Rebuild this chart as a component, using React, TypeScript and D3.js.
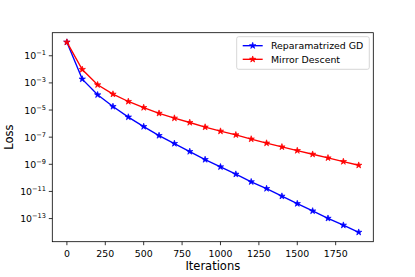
import React from "react";
import * as d3 from "d3";

const iterations = [0, 100, 200, 300, 400, 500, 600, 700, 800, 900, 1000, 1100, 1200, 1300, 1400, 1500, 1600, 1700, 1800, 1900];
const reparamLog10 = [0, -2.72, -3.88, -4.74, -5.52, -6.22, -6.88, -7.47, -8.06, -8.65, -9.19, -9.73, -10.29, -10.79, -11.35, -11.9, -12.44, -12.98, -13.49, -14.01];
const mirrorLog10 = [0, -2.01, -3.14, -3.83, -4.37, -4.82, -5.24, -5.6, -5.92, -6.26, -6.56, -6.83, -7.14, -7.44, -7.72, -7.99, -8.26, -8.53, -8.8, -9.07];
const reparamGD = reparamLog10.map((v) => Math.pow(10, v));
const mirrorDescent = mirrorLog10.map((v) => Math.pow(10, v));
const xTicks = [0, 250, 500, 750, 1000, 1250, 1500, 1750];
const yTickExponents = [-1, -3, -5, -7, -9, -11, -13];
const seriesNames = ["Reparamatrized GD", "Mirror Descent"];
const seriesColors = ["#0000ff", "#ff0000"];

const W = 415;
const H = 277;
const L = 52.3, R = 373.3, T = 32.7, B = 241.7;
const FONT = "DejaVu Sans";

export default function App() {
  const x = d3.scaleLinear().domain([-95, 1995]).range([L, R]);
  const y = d3.scaleLog().domain([Math.pow(10, -14.705), Math.pow(10, 0.7)]).range([B, T]);
  const line = d3.line<[number, number]>().x((d) => x(d[0])).y((d) => y(d[1]));
  const star = d3.symbol().type(d3.symbolStar).size(12.5)();
  const series = [reparamGD, mirrorDescent];

  return (
    <svg width={W} height={H} style={{ position: "absolute", left: 0, top: 0, background: "#fff" }} fontFamily={FONT}>
      <rect x={0} y={0} width={W} height={H} fill="#fff" />
      {series.map((vals, si) => {
        const pts = iterations.map((it, i) => [it, vals[i]] as [number, number]);
        return (
          <g key={si}>
            <path d={line(pts) || ""} fill="none" stroke={seriesColors[si]} strokeWidth={1.35} />
            {pts.map((p, i) => (
              <path key={i} d={star || ""} transform={`translate(${x(p[0])},${y(p[1])})`} fill={seriesColors[si]} stroke={seriesColors[si]} strokeWidth={0.7} />
            ))}
          </g>
        );
      })}
      {/* spines */}
      <rect x={L} y={T} width={R - L} height={B - T} fill="none" stroke="#000" strokeWidth={0.8} />
      {/* x ticks */}
      {xTicks.map((t) => (
        <g key={t}>
          <line x1={x(t)} x2={x(t)} y1={B} y2={B + 3.5} stroke="#000" strokeWidth={0.8} />
          <text x={x(t)} y={257} fontSize={9.4} textAnchor="middle" fill="#000">{t}</text>
        </g>
      ))}
      {/* y ticks */}
      {yTickExponents.map((e) => {
        const yy = y(Math.pow(10, e));
        return (
          <g key={e}>
            <line x1={L - 3.5} x2={L} y1={yy} y2={yy} stroke="#000" strokeWidth={0.8} />
            <text x={46} y={yy + 3.6} fontSize={9.4} textAnchor="end" fill="#000">
              10<tspan fontSize={6.6} dy={-4}>{"\u2212" + Math.abs(e)}</tspan>
            </text>
          </g>
        );
      })}
      <text x={(L + R) / 2} y={270} fontSize={11.5} textAnchor="middle" fill="#000">Iterations</text>
      <text transform={`translate(12.5,${(T + B) / 2}) rotate(-90)`} fontSize={11.5} textAnchor="middle" fill="#000">Loss</text>
      {/* legend */}
      <rect x={236.7} y={36.7} width={132.6} height={32.6} rx={2} fill="#fff" fillOpacity={0.8} stroke="#cccccc" strokeWidth={0.8} />
      {seriesNames.map((n, i) => {
        const ly = 45.7 + i * 13.6;
        return (
          <g key={n}>
            <line x1={242.7} x2={262.7} y1={ly} y2={ly} stroke={seriesColors[i]} strokeWidth={1.35} />
            <path d={star || ""} transform={`translate(252.7,${ly})`} fill={seriesColors[i]} stroke={seriesColors[i]} strokeWidth={0.7} />
            <text x={271} y={ly + 3.4} fontSize={9.4} fill="#000">{n}</text>
          </g>
        );
      })}
    </svg>
  );
}
